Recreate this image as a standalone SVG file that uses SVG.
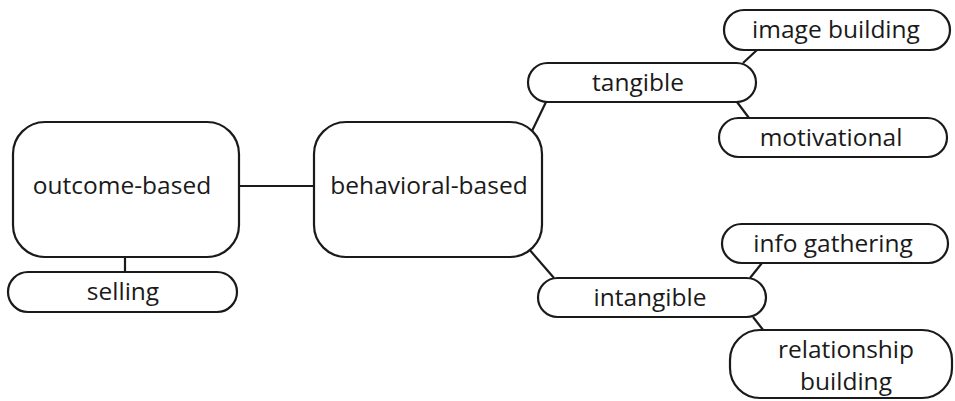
<svg xmlns="http://www.w3.org/2000/svg" width="955" height="401" viewBox="0 0 955 401">
<style>
.box{fill:#fff;stroke:#1a1a1a;stroke-width:2.2}
.lbl{font-family:"Open Sans","Noto Sans",sans-serif;font-size:24.5px;fill:#1a1a1a;text-anchor:middle}
.con line{stroke:#1a1a1a;stroke-width:2.2}
</style>
<rect width="955" height="401" fill="#fff"/>
<g id="connectors" class="con">
<line x1="239" y1="186" x2="314" y2="186"/>
<line x1="125" y1="257" x2="125" y2="272"/>
<line x1="532" y1="131" x2="546" y2="102"/>
<line x1="743" y1="63" x2="757" y2="50"/>
<line x1="737" y1="102" x2="749" y2="118"/>
<line x1="528" y1="248" x2="554" y2="278"/>
<line x1="750" y1="278" x2="762" y2="263"/>
<line x1="753" y1="317" x2="764" y2="331"/>
</g>
<g id="outcome-based"><rect class="box" x="13" y="122" width="226" height="135" rx="32"/><text class="lbl" x="122" y="194">outcome-based</text></g>
<g id="selling"><rect class="box" x="8" y="272" width="229" height="40" rx="20"/><text class="lbl" x="123" y="300">selling</text></g>
<g id="behavioral-based"><rect class="box" x="314" y="122" width="228" height="135" rx="32"/><text class="lbl" x="429" y="194">behavioral-based</text></g>
<g id="tangible"><rect class="box" x="528" y="63" width="228" height="39" rx="19.5"/><text class="lbl" x="638" y="91">tangible</text></g>
<g id="image-building"><rect class="box" x="724" y="10" width="226" height="40" rx="20"/><text class="lbl" x="836" y="38">image building</text></g>
<g id="motivational"><rect class="box" x="719" y="118" width="228" height="39" rx="19.5"/><text class="lbl" x="831" y="146">motivational</text></g>
<g id="intangible"><rect class="box" x="538" y="278" width="228" height="39" rx="19.5"/><text class="lbl" x="650" y="306">intangible</text></g>
<g id="info-gathering"><rect class="box" x="722" y="224" width="226" height="39" rx="19.5"/><text class="lbl" x="833" y="252">info gathering</text></g>
<g id="relationship-building"><rect class="box" x="730" y="330" width="222" height="68" rx="30"/><text class="lbl" x="846" y="358">relationship</text><text class="lbl" x="846" y="390">building</text></g>
</svg>
